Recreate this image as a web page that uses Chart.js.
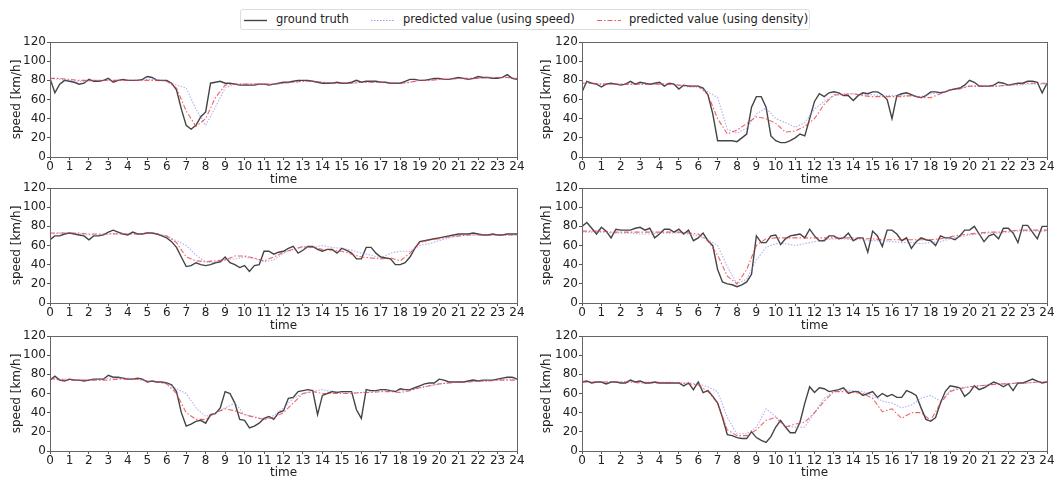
<!DOCTYPE html>
<html>
<head>
<meta charset="utf-8">
<script src="https://cdn.jsdelivr.net/npm/chart.js@4/dist/chart.umd.min.js"></script>
<style>
	body { margin: 0; background: #fff; width: 1060px; height: 480px; overflow: hidden; position: relative; font-family: "DejaVu Sans", sans-serif; }
	.panel { position: absolute; width: 530px; }
	#legend { position: absolute; left: 240px; top: 9px; width: 570px; height: 21px; border: 1px solid #ddd; border-radius: 3px; box-sizing: border-box; font-size: 11.5px; color: #222; }
	#legend span, #legend svg { position: absolute; }
	#legend span { top: 2px; }
	#legend svg { top: 9px; }
</style>
</head>
<body>
<div id="legend">
	<svg style="left:3px" width="23" height="3"><line x1="0" y1="1.5" x2="23" y2="1.5" stroke="#444" stroke-width="1.4"/></svg>
	<span style="left:35px">ground truth</span>
	<svg style="left:130px" width="23" height="3"><line x1="0" y1="1.5" x2="23" y2="1.5" stroke="rgba(110,110,240,0.7)" stroke-width="1.2" stroke-dasharray="1.5,1.5"/></svg>
	<span style="left:162px">predicted value (using speed)</span>
	<svg style="left:356px" width="24" height="3"><line x1="0" y1="1.5" x2="24" y2="1.5" stroke="rgba(235,50,50,0.8)" stroke-width="1.1" stroke-dasharray="5,2,1.5,2"/></svg>
	<span style="left:388px">predicted value (using density)</span>
</div>

<div class="panel" style="left:0;top:32px;height:155px"><canvas id="c1"></canvas></div>
<div class="panel" style="left:530px;top:32px;height:155px"><canvas id="c2"></canvas></div>
<div class="panel" style="left:0;top:178px;height:155px"><canvas id="c3"></canvas></div>
<div class="panel" style="left:530px;top:178px;height:155px"><canvas id="c4"></canvas></div>
<div class="panel" style="left:0;top:326px;height:154px"><canvas id="c5"></canvas></div>
<div class="panel" style="left:530px;top:326px;height:154px"><canvas id="c6"></canvas></div>

<script>
// ground truth every 15 min, predictions every 30 min, time 0..24 h
var GT_STEP = 0.25;
var PRED_STEP = 0.5;
var hourTicks = [0,1,2,3,4,5,6,7,8,9,10,11,12,13,14,15,16,17,18,19,20,21,22,23,24];
var speedTicks = [0,20,40,60,80,100,120];

var gt1 = [82,67,76,80,79,78,76,77,81,79,79,80,82,78,80,81,80,80,80,81,84,83,80,80,80,77,70,50,33,29,33,42,47,77,78,79,
	77,77,76,75,75,75,75,76,76,75,76,77,78,78,79,80,80,80,79,78,77,77,77,78,77,77,78,80,78,79,79,79,78,78,77,77,
	77,79,81,81,80,80,81,82,82,81,81,82,83,82,81,82,84,83,83,82,82,83,86,82,81];
var spd1 = [82,81,80,79,79,80,80,80,80,80,81,81,79,75,72,50,33,52,72,76,76,76,76,76,77,78,79,79,78,77,77,77,78,78,78,77,77,78,80,80,81,81,82,81,82,83,83,83,82];
var den1 = [82,82,81,80,80,80,80,80,80,80,80,80,79,72,48,32,40,62,75,76,76,76,76,76,77,78,79,79,78,77,77,77,78,78,78,77,77,78,80,80,81,81,82,82,82,83,83,83,82];

var gt2 = [68,79,77,76,73,76,77,76,75,76,79,76,78,77,76,77,78,74,77,76,71,75,74,74,74,72,65,45,17,17,17,17,16,20,24,52,
	63,63,52,22,17,15,15,17,20,24,22,40,58,66,63,67,68,67,64,64,59,64,67,66,68,68,65,60,40,64,66,67,65,63,62,64,
	68,68,67,68,70,71,72,75,80,78,74,74,74,75,78,77,75,76,77,77,79,79,78,67,77];
var spd2 = [77,77,76,76,76,76,76,76,76,76,75,73,73,68,62,29,25,30,45,51,40,36,31,36,50,58,64,66,66,65,65,64,64,64,64,63,66,67,70,72,74,74,74,74,75,75,76,76,76];
var den2 = [77,77,76,76,76,76,76,76,76,76,75,74,74,65,40,24,28,35,42,40,35,26,27,32,40,55,65,65,66,64,63,63,63,63,64,62,62,66,70,71,74,74,74,74,75,76,77,77,77];

var gt3 = [66,70,70,72,73,72,71,70,66,70,70,71,74,76,74,72,71,74,72,72,73,73,72,70,68,64,58,48,38,39,42,40,39,40,42,43,
	48,42,40,37,39,33,39,40,54,54,51,53,54,57,59,52,55,59,59,56,54,56,56,52,57,55,52,46,46,58,58,52,48,47,46,40,
	40,42,48,57,64,65,66,67,68,69,70,71,72,72,72,73,72,71,71,72,71,71,72,72,72];
var spd3 = [72,73,73,72,71,71,72,73,72,72,73,72,70,65,60,50,43,42,45,46,48,46,43,45,52,56,58,58,60,58,57,55,52,50,47,52,54,54,60,62,65,68,70,71,71,71,71,71,71];
var den3 = [73,73,73,73,72,72,72,72,72,72,73,72,70,63,48,44,43,44,45,49,49,47,44,48,53,56,59,58,56,55,54,51,48,47,46,47,44,52,63,66,67,69,70,71,71,71,71,71,71];

var gt4 = [80,84,78,72,79,75,68,77,76,76,76,78,79,76,78,68,72,77,77,74,77,72,76,65,68,73,65,60,35,22,20,19,17,19,22,30,
	70,63,63,70,71,61,67,70,71,72,68,77,70,65,65,70,70,67,68,73,65,68,68,53,75,70,59,76,76,72,65,68,57,64,68,66,
	65,60,70,68,68,66,70,76,76,80,72,64,70,72,67,78,78,73,63,81,81,74,67,80,80];
var spd4 = [74,74,74,73,73,73,72,72,73,73,73,72,70,66,60,38,20,25,45,58,62,62,60,62,64,66,67,67,66,66,65,65,64,63,63,62,63,64,67,69,71,72,73,73,74,75,75,75,75];
var den4 = [75,75,75,74,74,74,74,74,74,74,74,73,72,65,50,28,20,35,60,67,68,68,68,68,68,68,68,68,68,67,67,66,66,66,66,66,66,67,69,71,72,73,74,74,75,76,76,76,76];

var gt5 = [74,78,74,73,75,74,74,73,74,75,75,75,79,77,77,76,75,75,76,75,72,73,72,72,71,69,62,40,26,28,31,32,29,38,39,45,
	62,60,50,33,32,24,26,29,34,36,33,40,42,55,56,62,63,64,63,38,58,60,62,61,62,62,62,43,34,64,63,63,64,64,63,62,
	65,64,64,66,68,70,71,71,75,74,72,72,72,72,73,74,73,74,74,74,75,76,77,77,75];
var spd5 = [76,75,75,74,74,75,76,76,76,75,73,72,71,65,60,45,36,40,45,50,38,36,33,37,45,55,60,62,64,62,61,61,61,62,63,63,63,64,66,68,70,71,72,72,73,73,74,75,75];
var den5 = [76,74,74,74,74,74,74,75,75,75,73,72,70,60,40,33,33,40,44,42,38,35,33,35,40,50,60,62,60,60,60,60,61,61,62,62,61,63,66,68,70,71,72,72,73,73,74,74,74];

var gt6 = [72,73,71,72,72,70,72,72,71,71,74,72,73,71,71,72,71,71,71,71,71,68,71,64,72,61,63,57,50,35,17,16,14,13,13,20,
	14,11,9,15,25,32,25,19,19,30,50,67,61,66,65,62,63,64,66,60,62,62,58,60,62,56,60,57,59,56,56,63,61,58,45,33,
	31,35,50,62,68,67,66,57,61,68,64,66,69,72,70,67,70,63,71,71,73,75,73,71,72];
var spd6 = [72,72,72,72,72,72,72,72,72,72,71,71,70,67,62,35,18,18,25,44,36,26,25,25,40,55,62,64,63,62,58,52,50,45,48,55,58,52,63,66,67,68,69,70,70,71,71,72,72];
var den6 = [72,72,72,72,72,72,71,71,71,71,71,70,69,62,50,22,16,16,22,32,35,25,28,30,40,52,62,62,61,60,55,41,44,34,40,40,32,50,62,65,67,68,69,70,70,71,71,72,72];

function toPoints(values, step) {
	return values.map(function(v, i) { return { x: i * step, y: v }; });
}

// matplotlib-like box around the plot area
var framePlugin = {
	id: 'frame',
	afterDraw: function(chart) {
		var a = chart.chartArea;
		var ctx = chart.ctx;
		ctx.save();
		ctx.strokeStyle = '#666';
		ctx.lineWidth = 1;
		ctx.strokeRect(a.left + 0.5, a.top + 0.5, a.right - a.left, a.bottom - a.top);
		ctx.restore();
	}
};

function makeChart(id, gt, spd, den, yWidth, xHeight) {
	var font = { family: 'DejaVu Sans', size: 12 };
	new Chart(document.getElementById(id), {
		type: 'line',
		data: {
			datasets: [{
				label: 'ground truth',
				data: toPoints(gt, GT_STEP),
				borderColor: '#444',
				borderWidth: 1.4,
				order: 3
			}, {
				label: 'predicted value (using speed)',
				data: toPoints(spd, PRED_STEP),
				borderColor: 'rgba(120,120,240,0.55)',
				borderWidth: 1.2,
				borderDash: [1.5, 1.5],
				order: 2
			}, {
				label: 'predicted value (using density)',
				data: toPoints(den, PRED_STEP),
				borderColor: 'rgba(235,50,50,0.75)',
				borderWidth: 1.1,
				borderDash: [5, 2, 1.5, 2],
				order: 1
			}]
		},
		options: {
			responsive: true,
			maintainAspectRatio: false,
			animation: false,
			elements: { point: { radius: 0 }, line: { tension: 0 } },
			layout: { padding: { left: 0, right: 13, top: 10, bottom: 0 } },
			plugins: { legend: { display: false }, tooltip: { enabled: false } },
			scales: {
				x: {
					type: 'linear',
					min: 0,
					max: 24,
					afterBuildTicks: function(s) { s.ticks = hourTicks.map(function(v) { return { value: v }; }); },
					afterFit: function(s) { s.height = xHeight; },
					ticks: { autoSkip: false, maxRotation: 0, padding: 0, color: '#222', font: font },
					grid: { drawOnChartArea: false, tickLength: 3, color: '#555' },
					border: { color: '#666' },
					title: { display: true, text: 'time', color: '#222', font: font, padding: { top: 0, bottom: 0 } }
				},
				y: {
					min: 0,
					max: 120,
					afterBuildTicks: function(s) { s.ticks = speedTicks.map(function(v) { return { value: v }; }); },
					afterFit: function(s) { s.width = yWidth; },
					ticks: { padding: 1, color: '#222', font: font },
					grid: { drawOnChartArea: false, tickLength: 3, color: '#555' },
					border: { color: '#666' },
					title: { display: true, text: 'speed [km/h]', color: '#222', font: font, padding: { top: 10, bottom: 0 } }
				}
			}
		},
		plugins: [framePlugin]
	});
}

makeChart('c1', gt1, spd1, den1, 50, 30);
makeChart('c2', gt2, spd2, den2, 52, 30);
makeChart('c3', gt3, spd3, den3, 50, 30);
makeChart('c4', gt4, spd4, den4, 52, 30);
makeChart('c5', gt5, spd5, den5, 50, 29);
makeChart('c6', gt6, spd6, den6, 52, 29);
</script>
</body>
</html>
